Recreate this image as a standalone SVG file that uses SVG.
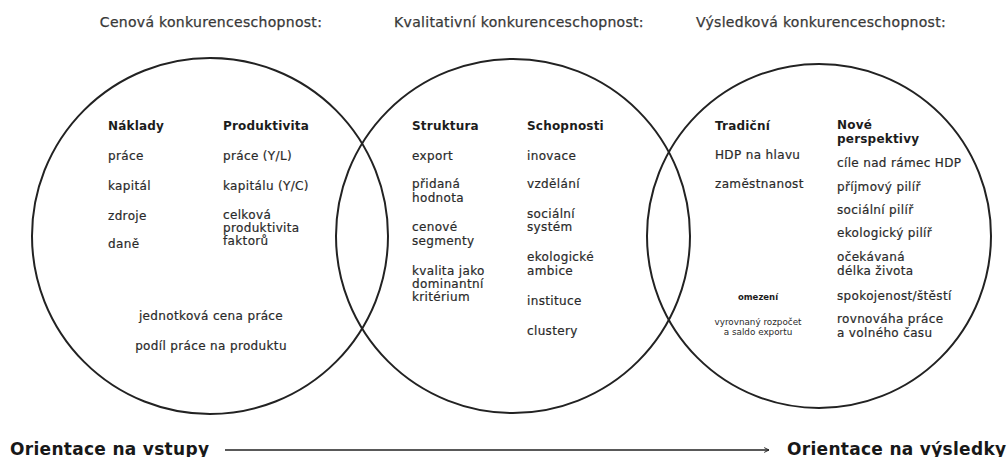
<svg xmlns="http://www.w3.org/2000/svg" width="1007" height="457" viewBox="0 0 1007 457">
<defs>
<style>
text{font-family:"DejaVu Sans","Noto Sans",sans-serif;fill:#2a2a2a}
.title{font-size:14px;letter-spacing:0.3px;fill:#383838;stroke:#383838;stroke-width:0.25px;text-anchor:middle}
.h{font-size:12px;letter-spacing:0.2px;font-weight:bold;fill:#1c1c1c}
.t{font-size:12px;letter-spacing:0.35px;stroke:#2a2a2a;stroke-width:0.2px}
.s{font-size:8.8px;text-anchor:middle}
.sb{font-size:8.5px;font-weight:bold;text-anchor:middle;fill:#1c1c1c}
.c{text-anchor:middle}
.big{font-size:17px;letter-spacing:0.3px;font-weight:bold;fill:#181818}
.circle{fill:none;stroke:#222;stroke-width:2}
.conn{fill:none;stroke:#222;stroke-width:1.6}
</style>
<marker id="arr" viewBox="0 0 10 10" refX="9" refY="5" markerWidth="6" markerHeight="7" orient="auto" markerUnits="userSpaceOnUse">
<path d="M1,1 L9,5 L1,9" fill="none" stroke="#222" stroke-width="1.6"/>
</marker>
</defs>
<rect width="1007" height="457" fill="#fff"/>

<g id="node-cenova">
<circle class="circle" cx="210" cy="236" r="178"/>
<text class="title" x="211" y="27">Cenová konkurenceschopnost:</text>
<text class="h" x="108" y="130">Náklady</text>
<text class="t" x="108" y="160">práce</text>
<text class="t" x="108" y="190">kapitál</text>
<text class="t" x="108" y="220">zdroje</text>
<text class="t" x="108" y="248">daně</text>
<text class="h" x="223" y="130">Produktivita</text>
<text class="t" x="223" y="160">práce (Y/L)</text>
<text class="t" x="223" y="190">kapitálu (Y/C)</text>
<text class="t" x="223" y="219">celková</text>
<text class="t" x="223" y="232">produktivita</text>
<text class="t" x="223" y="245">faktorů</text>
<text class="t c" x="211" y="320">jednotková cena práce</text>
<text class="t c" x="211" y="350">podíl práce na produktu</text>
</g>

<g id="node-kvalitativni">
<circle class="circle" cx="513" cy="236" r="177"/>
<text class="title" x="519" y="27">Kvalitativní konkurenceschopnost:</text>
<text class="h" x="412" y="130">Struktura</text>
<text class="t" x="412" y="160">export</text>
<text class="t" x="412" y="188">přidaná</text>
<text class="t" x="412" y="202">hodnota</text>
<text class="t" x="412" y="231">cenové</text>
<text class="t" x="412" y="245">segmenty</text>
<text class="t" x="412" y="275">kvalita jako</text>
<text class="t" x="412" y="288">dominantní</text>
<text class="t" x="412" y="301">kritérium</text>
<text class="h" x="527" y="130">Schopnosti</text>
<text class="t" x="527" y="160">inovace</text>
<text class="t" x="527" y="188">vzdělání</text>
<text class="t" x="527" y="218">sociální</text>
<text class="t" x="527" y="231">systém</text>
<text class="t" x="527" y="261">ekologické</text>
<text class="t" x="527" y="275">ambice</text>
<text class="t" x="527" y="305">instituce</text>
<text class="t" x="527" y="335">clustery</text>
</g>

<g id="node-vysledkova">
<circle class="circle" cx="819" cy="236" r="172"/>
<text class="title" x="821" y="27">Výsledková konkurenceschopnost:</text>
<text class="h" x="715" y="130">Tradiční</text>
<text class="t" x="715" y="159">HDP na hlavu</text>
<text class="t" x="715" y="188">zaměstnanost</text>
<text class="sb" x="758" y="300">omezení</text>
<text class="s" x="758" y="325">vyrovnaný rozpočet</text>
<text class="s" x="758" y="335">a saldo exportu</text>
<text class="h" x="837" y="129">Nové</text>
<text class="h" x="837" y="143">perspektivy</text>
<text class="t" x="837" y="167">cíle nad rámec HDP</text>
<text class="t" x="837" y="191">příjmový pilíř</text>
<text class="t" x="837" y="214">sociální pilíř</text>
<text class="t" x="837" y="237">ekologický pilíř</text>
<text class="t" x="837" y="261">očekávaná</text>
<text class="t" x="837" y="275">délka života</text>
<text class="t" x="837" y="300">spokojenost/štěstí</text>
<text class="t" x="837" y="323">rovnováha práce</text>
<text class="t" x="837" y="337">a volného času</text>
</g>

<g id="node-vstupy">
<text class="big" x="10" y="455">Orientace na vstupy</text>
</g>
<g id="node-vysledky">
<text class="big" x="787" y="455">Orientace na výsledky</text>
</g>

<g id="connectors">
<line class="conn" x1="225" y1="450" x2="769" y2="450" marker-end="url(#arr)"/>
</g>
</svg>
